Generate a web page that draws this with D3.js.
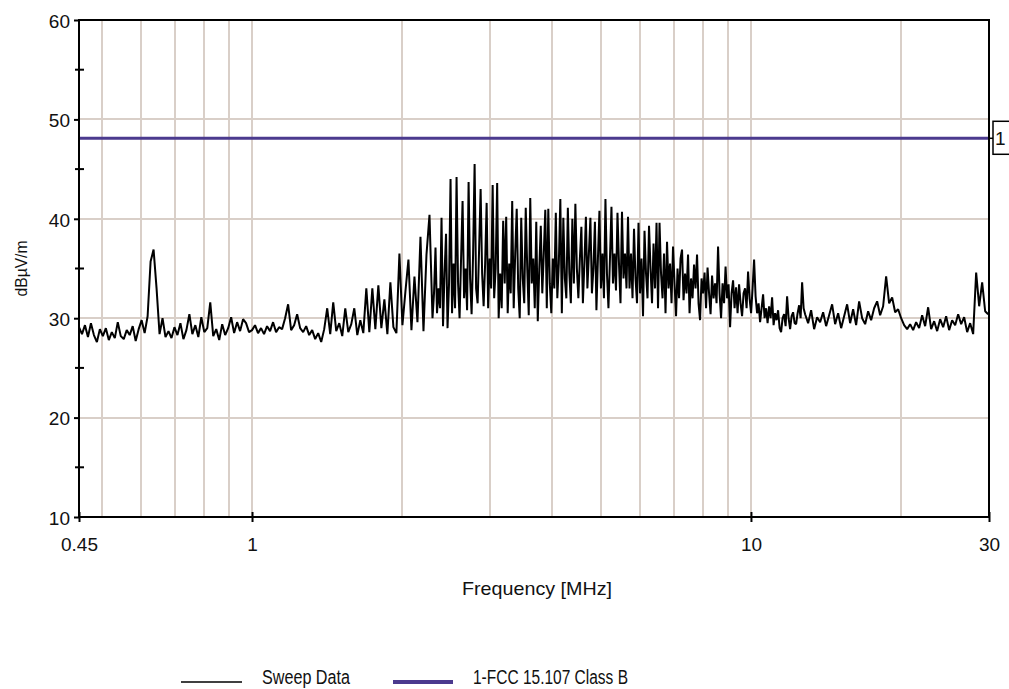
<!DOCTYPE html>
<html>
<head>
<meta charset="utf-8">
<script src="https://cdn.jsdelivr.net/npm/d3@7"></script>
<style>
  body { margin: 0; background: #fff; }
  svg { display: block; font-family: "Liberation Sans", Arial, sans-serif; }
</style>
</head>
<body>
<div id="chart"></div>
<script>
// sweep is read in bands (MHz edges); each band is log spaced
const bandEdges = [0.45, 1.0, 2.3, 5.67, 12.84, 30.3];

// levels in dBuV/m, low to high frequency
const levels0 = [ // 0.45 - 1 MHz
  29.1, 28.4, 29.3, 28.1, 29.5, 28.3, 27.6, 28.9, 28.2, 29.0,
  27.8, 28.6, 28.0, 29.6, 28.2, 27.9, 28.8, 28.3, 29.2, 27.7,
  28.9, 29.8, 28.5, 30.2, 35.7, 36.9, 33.0, 28.4, 30.0, 28.1,
  28.7, 28.0, 29.1, 28.3, 29.5, 27.9, 28.8, 30.4, 28.4, 29.3,
  28.1, 30.1, 28.6, 29.0, 31.6, 28.2, 28.9, 27.8, 29.4, 28.3,
  29.0, 30.1, 28.5, 29.6, 28.7, 29.9, 29.5, 28.6
];
const levels1 = [ // 1 - 2.3 MHz
  28.8, 29.3, 28.5, 29.0, 28.4, 29.2, 28.7, 29.6, 28.6, 29.1,
  28.9, 30.0, 31.4, 28.8, 29.3, 30.4, 29.0, 28.6, 29.2, 28.3,
  28.8, 27.9, 28.5, 27.6, 28.9, 31.0, 28.4, 31.6, 28.7, 29.5,
  28.2, 31.0, 28.6, 29.4, 31.0, 28.3, 29.8, 28.5, 33.0, 28.6,
  33.0, 28.9, 33.3, 29.0, 31.9, 28.4, 33.6, 29.1, 28.5, 36.5,
  29.3, 32.7, 35.9, 28.8, 34.2, 29.6, 38.2, 28.7, 36.4, 40.4
];
const levels2 = [ // 2.3 - 5.67 MHz
  30.0, 32.5, 37.1, 30.5, 33.0, 31.0, 40.1, 29.2, 34.5, 38.5,
  29.0, 33.5, 44.0, 30.5, 35.5, 31.0, 44.2, 33.5, 30.0, 36.0,
  41.8, 32.0, 35.0, 30.8, 43.7, 34.0, 30.4, 36.5, 45.5, 33.0,
  31.5, 37.0, 43.0, 34.5, 31.2, 35.5, 41.6, 31.0, 36.0, 33.0,
  43.4, 32.0, 35.0, 43.6, 30.0, 34.5, 31.0, 39.8, 33.5, 40.2,
  30.5, 35.5, 32.5, 41.8, 31.0, 36.5, 41.0, 33.0, 30.0, 40.1,
  34.0, 31.5, 41.1, 35.0, 30.3, 42.1, 33.5, 36.0, 31.0, 39.7,
  29.7, 35.0, 39.3, 32.5, 36.5, 40.9, 31.0, 41.0, 33.5, 30.5,
  36.0, 33.0, 40.6, 32.0, 35.5, 42.0, 30.5, 40.1, 34.0, 32.0,
  41.1, 34.5, 31.5, 40.0, 33.5, 41.5, 35.0, 32.0, 36.0, 39.2,
  31.5, 35.5, 40.2, 33.0, 36.5, 40.1, 32.5, 35.0, 39.7, 30.8,
  36.0, 40.8, 33.0, 36.5, 32.0, 42.0, 34.5, 31.0, 36.0, 41.2,
  33.5, 36.5, 32.8, 40.6, 35.5, 31.5, 40.7, 34.0, 36.5, 33.0
];
const levels3 = [ // 5.67 - 12.84 MHz
  40.2, 33.0, 36.5, 32.0, 39.0, 34.0, 31.5, 39.6, 32.5, 36.0,
  30.2, 38.8, 34.5, 32.0, 39.3, 35.0, 31.5, 37.5, 33.0, 39.6,
  31.0, 39.6, 34.5, 32.0, 36.5, 30.5, 37.7, 33.0, 35.5, 31.5,
  37.2, 33.5, 30.2, 35.0, 32.0, 36.0, 36.9, 31.8, 34.5, 32.5,
  36.4, 30.5, 34.0, 32.0, 35.4, 33.0, 36.4, 31.5, 29.8, 34.0,
  32.5, 34.6, 31.0, 35.1, 32.5, 30.4, 34.3, 32.0, 33.5, 31.5,
  37.2, 32.5, 30.0, 33.5, 31.5, 35.2, 32.0, 33.4, 29.1, 32.5,
  33.8, 31.0, 33.1, 30.5, 33.4, 31.5, 30.2, 32.5, 33.0, 31.0,
  34.7, 32.0, 30.5, 33.0, 35.9, 32.2, 30.5, 31.5, 29.6, 31.0,
  32.4, 30.0, 31.0, 29.5, 31.2, 30.0, 32.1, 29.3, 30.5, 29.8,
  30.8, 29.0, 28.6, 30.0, 30.4, 29.2, 32.2, 30.0, 28.9, 30.2,
  30.6, 29.5, 29.4, 30.5, 31.3, 30.0, 33.6, 31.0
];
const levels4 = [ // 12.84 - 30 MHz
  30.4, 29.5, 30.8, 28.9, 30.1, 29.6, 30.6, 29.2, 30.3, 31.4,
  29.4, 30.5, 29.0, 30.2, 31.4, 29.5, 30.9, 29.3, 31.7, 30.0,
  29.4, 30.7, 29.8, 31.0, 31.7, 30.3, 31.2, 34.2, 31.5, 32.1,
  30.6, 30.9, 30.0, 29.3, 28.9, 29.4, 28.8, 29.6, 29.0, 30.3,
  29.2, 31.1, 28.9, 29.7, 28.7, 29.9, 29.1, 30.2, 28.8, 29.8,
  29.3, 30.4, 29.4, 30.1, 28.6, 29.5, 28.4, 34.6, 31.2, 33.6,
  30.7, 30.4
];
const bands = [levels0, levels1, levels2, levels3, levels4];

const limitLevel = 48.1;
const limitName = "1";

const xTicks = [0.45, 1, 10, 30];
const xGrid = [0.5, 0.6, 0.7, 0.8, 0.9, 1, 2, 3, 4, 5, 6, 7, 8, 9, 10, 20];
const yTicks = [10, 20, 30, 40, 50, 60];
const yMinor = [15, 25, 35, 45, 55];
const yGrid = [20, 30, 40, 50];
const legendNames = ["Sweep Data", "1-FCC 15.107 Class B"];

const width = 1009, height = 689;
const plot = { left: 79, right: 989, top: 20, bottom: 517 };
const gridColor = "#d9cfc8";
const limitColor = "#4b3a8e";
const textColor = "#111";

// pair each reading with its frequency inside its band
const sweep = [];
bands.forEach((lv, b) => {
  const f0 = bandEdges[b], f1 = bandEdges[b + 1];
  lv.forEach((v, i) => sweep.push({ f: f0 * Math.pow(f1 / f0, i / lv.length), v: v }));
});

const x = d3.scaleLog()
  .domain([0.45, 30])
  .range([plot.left, plot.right]);

const y = d3.scaleLinear()
  .domain([10, 60])
  .range([plot.bottom, plot.top]);

const svg = d3.select("#chart").append("svg")
  .attr("width", width)
  .attr("height", height)
  .attr("viewBox", [0, 0, width, height]);

svg.append("rect").attr("width", width).attr("height", height).attr("fill", "#fff");

svg.append("clipPath").attr("id", "clip")
  .append("rect")
  .attr("x", plot.left).attr("y", plot.top)
  .attr("width", plot.right - plot.left).attr("height", plot.bottom - plot.top);

// grid
const grid = svg.append("g").attr("stroke", gridColor).attr("stroke-width", 2);
grid.selectAll(".vg").data(xGrid).join("line")
  .attr("x1", d => Math.round(x(d))).attr("x2", d => Math.round(x(d)))
  .attr("y1", plot.top).attr("y2", plot.bottom);
grid.selectAll(".hg").data(yGrid).join("line")
  .attr("x1", plot.left).attr("x2", plot.right)
  .attr("y1", d => Math.round(y(d))).attr("y2", d => Math.round(y(d)));

// limit line
svg.append("line")
  .attr("x1", plot.left).attr("x2", plot.right)
  .attr("y1", y(limitLevel)).attr("y2", y(limitLevel))
  .attr("stroke", limitColor)
  .attr("stroke-width", 3);

// sweep trace
svg.append("path")
  .datum(sweep)
  .attr("clip-path", "url(#clip)")
  .attr("fill", "none")
  .attr("stroke", "#000")
  .attr("stroke-width", 2)
  .attr("stroke-linejoin", "bevel")
  .attr("d", d3.line().x(d => x(d.f)).y(d => y(d.v)));

// frame
svg.append("rect")
  .attr("x", plot.left).attr("y", plot.top)
  .attr("width", plot.right - plot.left).attr("height", plot.bottom - plot.top)
  .attr("fill", "none").attr("stroke", "#000").attr("stroke-width", 2);

// y axis
svg.append("g")
  .attr("transform", `translate(${plot.left},0)`)
  .call(d3.axisLeft(y).tickValues(yTicks).tickSize(5).tickPadding(4).tickFormat(d3.format("d")))
  .call(g => g.select(".domain").remove())
  .call(g => g.selectAll(".tick line").attr("stroke-width", 2))
  .call(g => g.selectAll(".tick text")
    .attr("font-size", 19).attr("font-family", "Liberation Sans, Arial, sans-serif")
    .attr("fill", textColor).attr("dy", "0.38em"));

svg.append("g")
  .selectAll("line").data(yMinor).join("line")
  .attr("x1", plot.left - 4).attr("x2", plot.left + 5)
  .attr("y1", d => y(d)).attr("y2", d => y(d))
  .attr("stroke", "#000").attr("stroke-width", 2);

// x axis
svg.append("g")
  .attr("transform", `translate(0,${plot.bottom})`)
  .call(d3.axisBottom(x).tickValues(xTicks).tickSize(5).tickPadding(16).tickFormat(d => d))
  .call(g => g.select(".domain").remove())
  .call(g => g.selectAll(".tick line").attr("y1", -5).attr("stroke-width", 2))
  .call(g => g.selectAll(".tick text")
    .attr("font-size", 19).attr("font-family", "Liberation Sans, Arial, sans-serif")
    .attr("fill", textColor));

// limit tag
const tagY = y(limitLevel);
svg.append("line")
  .attr("x1", plot.right).attr("x2", plot.right + 4)
  .attr("y1", tagY).attr("y2", tagY)
  .attr("stroke", "#000").attr("stroke-width", 1.5);
svg.append("rect")
  .attr("x", plot.right + 4).attr("y", tagY - 17)
  .attr("width", 22).attr("height", 33)
  .attr("fill", "#fff").attr("stroke", "#000").attr("stroke-width", 1.5);
svg.append("text")
  .attr("x", plot.right + 6).attr("y", tagY + 7)
  .attr("font-size", 19).attr("fill", textColor)
  .text(limitName);

// axis titles
svg.append("text")
  .attr("transform", `translate(27,${(plot.top + plot.bottom) / 2}) rotate(-90)`)
  .attr("text-anchor", "middle")
  .attr("font-size", 17).attr("fill", textColor)
  .attr("textLength", 56).attr("lengthAdjust", "spacingAndGlyphs")
  .text("dBµV/m");

svg.append("text")
  .attr("x", 537).attr("y", 595)
  .attr("text-anchor", "middle")
  .attr("font-size", 19).attr("fill", textColor)
  .attr("textLength", 150).attr("lengthAdjust", "spacingAndGlyphs")
  .text("Frequency [MHz]");

// legend
const legend = [
  { name: legendNames[0], color: "#000", w: 1.5, x1: 181, x2: 242, tx: 262, tl: 88 },
  { name: legendNames[1], color: limitColor, w: 4, x1: 393, x2: 453, tx: 473, tl: 155 }
];
const lg = svg.append("g");
lg.selectAll("line").data(legend).join("line")
  .attr("x1", d => d.x1).attr("x2", d => d.x2)
  .attr("y1", 682).attr("y2", 682)
  .attr("stroke", d => d.color).attr("stroke-width", d => d.w);
lg.selectAll("text").data(legend).join("text")
  .attr("x", d => d.tx).attr("y", 684)
  .attr("font-size", 20).attr("fill", textColor)
  .attr("textLength", d => d.tl).attr("lengthAdjust", "spacingAndGlyphs")
  .text(d => d.name);
</script>
</body>
</html>
